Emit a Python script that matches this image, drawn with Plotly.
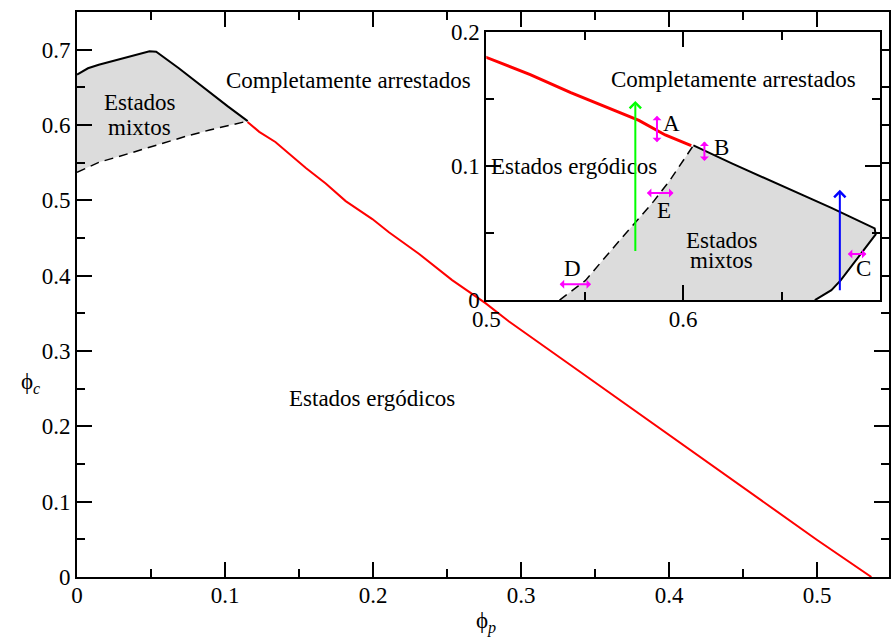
import plotly.graph_objects as go

# Phase boundaries in (phi_p, phi_c)
# ergodic -> fully arrested transition line
red_phip = [0.1152, 0.1231, 0.134, 0.1546, 0.168, 0.1815, 0.1995, 0.2107, 0.2309,
            0.2534, 0.2759, 0.2916, 0.33, 0.37, 0.41, 0.4631, 0.4997, 0.5366]
red_phic = [0.6041, 0.5909, 0.5775, 0.5429, 0.5223, 0.4990, 0.4751, 0.4576, 0.4291,
            0.3941, 0.3635, 0.3395, 0.2861, 0.2305, 0.1749, 0.101, 0.0495, 0.0]

# upper limit of the mixed-state region (solid black)
arr_phip = [0.0, 0.0074, 0.0147, 0.049, 0.0535, 0.0688, 0.1019, 0.1153]
arr_phic = [0.6669, 0.6753, 0.680, 0.6978, 0.6973, 0.6753, 0.6247, 0.6052]

# lower limit of the mixed-state region (dashed black)
mix_phip = [0.0, 0.0147, 0.038, 0.0577, 0.0736, 0.0896, 0.1153]
mix_phic = [0.5372, 0.5504, 0.5639, 0.5757, 0.585, 0.5934, 0.6052]

# quench paths in the inset: (phi_c, phi_p start, phi_p end)
green_path = (0.5757, 0.0356, 0.1485)
blue_path = (0.6796, 0.0062, 0.0822)

# double arrows: label, (x0, y0, x1, y1) in (phi_c, phi_p), label position
dbl_arrows = [
    ("A", (0.5867, 0.1166, 0.5867, 0.1374), (0.5939, 0.132)),
    ("B", (0.6108, 0.1026, 0.6108, 0.1183), (0.6196, 0.1141)),
    ("E", (0.5808, 0.0798, 0.5951, 0.0798), (0.5905, 0.0668)),
    ("C", (0.6829, 0.0344, 0.6931, 0.0344), (0.6914, 0.0233)),
    ("D", (0.5365, 0.0118, 0.5532, 0.0118), (0.5439, 0.0233)),
]

main_xticks = [0, 0.1, 0.2, 0.3, 0.4, 0.5]
main_yticks = [0, 0.1, 0.2, 0.3, 0.4, 0.5, 0.6, 0.7]
inset_xticks = [0.5, 0.6, 0.7]
inset_yticks = [0, 0.1, 0.2]

FONT = "Liberation Serif"
FS = 23
GREY = "#dcdcdc"
MAG = "#ff00ff"

fig = go.Figure()

# ---- main panel: phi_c vs phi_p ----
fig.add_trace(go.Scatter(
    x=arr_phip + mix_phip[::-1], y=arr_phic + mix_phic[::-1],
    fill="toself", fillcolor=GREY, mode="lines", line=dict(width=0),
    xaxis="x", yaxis="y", hoverinfo="skip"))
fig.add_trace(go.Scatter(x=mix_phip, y=mix_phic, mode="lines",
                         line=dict(color="black", width=1.5, dash="9px,6px"),
                         xaxis="x", yaxis="y"))
fig.add_trace(go.Scatter(x=arr_phip, y=arr_phic, mode="lines",
                         line=dict(color="black", width=2), xaxis="x", yaxis="y"))
fig.add_trace(go.Scatter(x=red_phip, y=red_phic, mode="lines",
                         line=dict(color="red", width=2), xaxis="x", yaxis="y"))

# ---- inset: phi_p vs phi_c ----
fig.add_trace(go.Scatter(
    x=mix_phic + arr_phic[::-1], y=mix_phip + arr_phip[::-1],
    fill="toself", fillcolor=GREY, mode="lines", line=dict(width=0),
    xaxis="x2", yaxis="y2", hoverinfo="skip"))
fig.add_trace(go.Scatter(x=mix_phic, y=mix_phip, mode="lines",
                         line=dict(color="black", width=1.5, dash="9px,6px"),
                         xaxis="x2", yaxis="y2"))
fig.add_trace(go.Scatter(x=arr_phic, y=arr_phip, mode="lines",
                         line=dict(color="black", width=2), xaxis="x2", yaxis="y2"))
fig.add_trace(go.Scatter(x=red_phic, y=red_phip, mode="lines",
                         line=dict(color="red", width=3), xaxis="x2", yaxis="y2"))

ann = []


def label(text, x, y, xref="x", yref="y", size=FS):
    ann.append(dict(text=text, x=x, y=y, xref=xref, yref=yref, showarrow=False,
                    font=dict(family=FONT, size=size, color="black"),
                    xanchor="center", yanchor="middle"))


# main panel texts
label("Estados", 0.0425, 0.6293)
label("mixtos", 0.0425, 0.5966)
label("Completamente arrestados", 0.1833, 0.6595)
label("Estados ergódicos", 0.1991, 0.2373)

# inset texts
label("Completamente arrestados", 0.6255, 0.1644, "x2", "y2")
label("Estados ergódicos", 0.5443, 0.0994, "x2", "y2")
label("Estados", 0.6197, 0.0447, "x2", "y2")
label("mixtos", 0.6197, 0.0294, "x2", "y2")

# axis titles
label("ϕ<sub><i>c</i></sub>", -0.0577, 0.344, "paper", "paper")
label("ϕ<sub><i>p</i></sub>", 0.5037, -0.0804, "paper", "paper")
label("ϕ<sub><i>p</i></sub>", 0.4705, 0.1028, "x2", "y2")
label("ϕ<sub><i>c</i></sub>", 0.5997, -0.0341, "x2", "y2")

# quench arrows
for (xc, y0, y1), col in [(green_path, "#00ff00"), (blue_path, "#0000ff")]:
    ann.append(dict(x=xc, y=y1, ax=xc, ay=y0, xref="x2", yref="y2",
                    axref="x2", ayref="y2", text="", showarrow=True,
                    arrowhead=4, arrowsize=1.1, arrowwidth=2, arrowcolor=col))

# double-headed arrows with their labels
for name, (x0, y0, x1, y1), (lx, ly) in dbl_arrows:
    ann.append(dict(x=x1, y=y1, ax=x0, ay=y0, xref="x2", yref="y2",
                    axref="x2", ayref="y2", text="", showarrow=True,
                    arrowside="end+start", arrowhead=1, startarrowhead=1,
                    arrowsize=0.75, startarrowsize=0.75, arrowwidth=2, arrowcolor=MAG))
    label(name, lx, ly, "x2", "y2")

axis_common = dict(showline=True, linecolor="black", linewidth=2, mirror="ticks",
                   ticks="inside", ticklen=15, tickwidth=1.5, tickcolor="black",
                   showgrid=False, zeroline=False,
                   tickfont=dict(family=FONT, size=FS, color="black"),
                   minor=dict(ticks="inside", ticklen=8, tickwidth=1.5,
                              tickcolor="black", dtick=0.05, showgrid=False))

fig.update_layout(
    width=891, height=644,
    margin=dict(l=77, r=0, t=5, b=67),
    paper_bgcolor="white", plot_bgcolor="white",
    showlegend=False,
    xaxis=dict(range=[0, 0.5485], tickvals=main_xticks, domain=[0, 1], anchor="y",
               ticklabelstandoff=-4, **axis_common),
    yaxis=dict(range=[0, 0.75], tickvals=main_yticks, domain=[0, 1], anchor="x",
               **axis_common),
    xaxis2=dict(range=[0.5, 0.7], tickvals=inset_xticks, domain=[0.5041, 0.9889],
                anchor="y2", ticklabelstandoff=-3, **axis_common),
    yaxis2=dict(range=[0, 0.2], tickvals=inset_yticks, domain=[0.490, 0.965],
                anchor="x2", **axis_common),
    annotations=ann,
)

fig.write_html("out.html")
